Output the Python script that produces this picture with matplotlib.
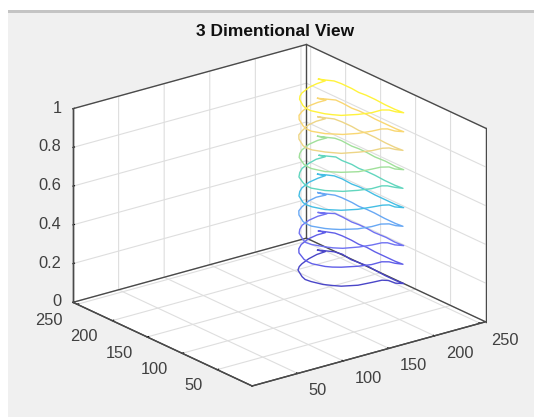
"""3 Dimentional View: contour3 style stack of outlines."""
import matplotlib
matplotlib.use("Agg")
import matplotlib.pyplot as plt
from matplotlib.patches import Rectangle

LEVELS = [0.0, 0.098, 0.196, 0.294, 0.392, 0.49, 0.588, 0.686, 0.784, 0.882]
COLORS = ["#4A46C8", "#605EE8", "#7072F2", "#68A8F4", "#44BEE4",
          "#62D6BE", "#A0E09A", "#EDD586", "#F9D772", "#FFF33C"]

x1 = [246, 250, 255, 257, 255, 256, 257, 256, 255, 255, 256, 251, 250, 246, 236, 222, 209, 204, 199, 195, 194, 196, 203, 209, 215, 227, 239, 249, 246]
y1 = [227, 222, 215, 206, 191, 181, 171, 158, 142, 127, 117, 122, 131, 135, 136, 138, 145, 151, 158, 170, 177, 184, 199, 205, 209, 215, 219, 220, 227]
x2 = [247, 251, 255, 256, 256, 255, 256, 255, 255, 255, 256, 252, 250, 245, 234, 222, 209, 203, 199, 194, 194, 195, 201, 207, 215, 228, 240, 249, 247]
y2 = [227, 221, 214, 205, 192, 180, 170, 157, 143, 128, 118, 124, 130, 134, 134, 138, 145, 150, 155, 167, 174, 180, 195, 203, 210, 217, 220, 220, 227]
x3 = [246, 250, 256, 256, 255, 256, 256, 255, 256, 255, 256, 251, 249, 245, 235, 223, 210, 204, 200, 194, 193, 195, 202, 208, 216, 228, 240, 250, 246]
y3 = [226, 221, 215, 204, 190, 181, 169, 158, 142, 128, 117, 123, 131, 134, 135, 138, 144, 150, 156, 168, 175, 181, 196, 203, 210, 216, 219, 219, 226]
x4 = [247, 250, 255, 256, 256, 255, 256, 256, 255, 255, 256, 252, 250, 244, 234, 221, 208, 203, 199, 193, 193, 194, 201, 207, 215, 229, 239, 249, 247]
y4 = [228, 222, 214, 206, 191, 180, 170, 159, 143, 127, 118, 123, 130, 134, 134, 137, 145, 150, 155, 167, 174, 180, 195, 203, 209, 217, 220, 219, 228]
x5 = [246, 251, 255, 256, 255, 256, 256, 255, 255, 255, 256, 251, 250, 245, 235, 222, 209, 204, 199, 194, 193, 194, 201, 208, 215, 228, 240, 249, 246]
y5 = [227, 221, 215, 205, 190, 181, 171, 157, 142, 127, 117, 123, 130, 133, 135, 138, 145, 150, 155, 167, 174, 180, 195, 203, 209, 216, 219, 220, 227]
x6 = [247, 250, 256, 255, 256, 255, 256, 256, 255, 255, 256, 252, 249, 245, 234, 222, 210, 204, 199, 193, 193, 195, 201, 208, 216, 228, 239, 249, 247]
y6 = [226, 222, 214, 204, 191, 180, 170, 158, 143, 128, 118, 124, 131, 134, 134, 138, 144, 150, 155, 167, 174, 181, 195, 203, 210, 216, 220, 220, 226]
x7 = [246, 250, 255, 256, 255, 256, 256, 255, 256, 255, 256, 251, 250, 244, 235, 222, 209, 204, 199, 194, 194, 195, 202, 208, 215, 228, 240, 250, 246]
y7 = [227, 221, 214, 206, 190, 181, 170, 157, 143, 127, 117, 123, 130, 134, 135, 137, 145, 150, 155, 168, 174, 180, 196, 203, 209, 216, 219, 219, 227]
x8 = [247, 251, 255, 256, 256, 255, 256, 256, 255, 255, 256, 252, 250, 245, 234, 223, 209, 204, 200, 194, 193, 194, 201, 207, 215, 228, 239, 249, 247]
y8 = [228, 221, 215, 205, 191, 180, 169, 158, 142, 128, 118, 124, 130, 133, 134, 138, 145, 151, 156, 167, 174, 180, 195, 203, 209, 217, 220, 220, 228]
x9 = [246, 250, 256, 256, 255, 256, 256, 255, 255, 255, 256, 251, 249, 245, 235, 222, 210, 204, 199, 193, 193, 195, 202, 208, 216, 229, 240, 249, 246]
y9 = [227, 222, 214, 204, 190, 181, 170, 157, 143, 127, 117, 123, 131, 134, 135, 138, 144, 150, 155, 167, 174, 181, 196, 204, 210, 217, 219, 219, 227]
x10 = [247, 250, 255, 256, 256, 255, 256, 256, 255, 255, 256, 252, 250, 245, 234, 222, 209, 204, 200, 195, 195, 197, 204, 209, 215, 228, 239, 249, 247]
y10 = [227, 222, 215, 206, 191, 180, 171, 158, 142, 128, 117, 123, 130, 134, 134, 138, 145, 151, 157, 170, 177, 184, 198, 204, 209, 216, 219, 220, 227]
CONTOURS_X = [x1, x2, x3, x4, x5, x6, x7, x8, x9, x10]
CONTOURS_Y = [y1, y2, y3, y4, y5, y6, y7, y8, y9, y10]

XY_TICKS = [50, 100, 150, 200, 250]
Z_TICKS = [0, 0.2, 0.4, 0.6, 0.8, 1]
Z_LABELS = ["0", "0.2", "0.4", "0.6", "0.8", "1"]
XY_MAX = 256
W, H = 534, 417

plt.rcParams["font.family"] = ["Liberation Sans", "DejaVu Sans"]

fig = plt.figure(figsize=(W / 100, H / 100), dpi=100, facecolor="#F0F0F0")
# white screenshot margin and the grey toolbar rule
fig.patches.append(Rectangle((0, 0), 8 / W, 1, transform=fig.transFigure, color="white", lw=0))
fig.patches.append(Rectangle((0, 1 - 10 / H), 1, 10 / H, transform=fig.transFigure, color="white", lw=0))
fig.patches.append(Rectangle((8 / W, 1 - 12.5 / H), 1, 2.5 / H, transform=fig.transFigure, color="#C4C4C4", lw=0))

ax = fig.add_axes([60 / W, -17.5 / H, 427 / W, 427 / H], projection="3d", proj_type="ortho")
ax.patch.set_alpha(0)
ax.view_init(elev=21, azim=-127.5)
ax.set_box_aspect((1, 1, 0.705), zoom=1.057)
ax.computed_zorder = False

# box outline of the walls and floor
BOX = "#4A4A4A"
ax.plot([0, XY_MAX, XY_MAX, 0, 0], [0, 0, XY_MAX, XY_MAX, 0], [0] * 5, color=BOX, lw=1.0, zorder=2)
ax.plot([0, XY_MAX, XY_MAX], [XY_MAX, XY_MAX, 0], [1, 1, 1], color=BOX, lw=1.0, zorder=2)
ax.plot([0, 0], [XY_MAX, XY_MAX], [0, 1], color=BOX, lw=1.0, zorder=2)
ax.plot([XY_MAX, XY_MAX], [XY_MAX, XY_MAX], [0, 1], color=BOX, lw=1.0, zorder=2)
ax.plot([XY_MAX, XY_MAX], [0, 0], [0, 1], color=BOX, lw=1.0, zorder=2)

for xs, ys, level, col in zip(CONTOURS_X, CONTOURS_Y, LEVELS, COLORS):
    ax.plot(xs, ys, [level] * len(xs), color=col, lw=1.0, zorder=3)

ax.set_xlim(0, XY_MAX, view_margin=0)
ax.set_ylim(0, XY_MAX, view_margin=0)
ax.set_zlim(0, 1, view_margin=0)
ax.set_xticks(XY_TICKS)
ax.set_yticks(XY_TICKS)
ax.set_zticks(Z_TICKS)
ax.set_zticklabels(Z_LABELS)
ax.tick_params(labelsize=11.8, labelcolor="#404040")
ax.tick_params(axis="x", pad=2)
ax.tick_params(axis="y", pad=2)
ax.tick_params(axis="z", pad=-3.5)

for axis in (ax.xaxis, ax.yaxis, ax.zaxis):
    axis.set_pane_color("white")
    axis.line.set_color("#404040")
    axis.line.set_linewidth(1.0)
    axis._axinfo["grid"].update(color="#DEDEDE", linewidth=0.8)
    axis._axinfo["tick"].update(inward_factor=0.0, outward_factor=0.08, color="#404040")
ax.grid(True)

for axis, ha in ((ax.xaxis, "left"), (ax.yaxis, "right"), (ax.zaxis, "right")):
    for lab in axis.get_ticklabels():
        lab.set_ha(ha)
        lab.set_va("center")

fig.text(275 / W, 1 - 31 / H, "3 Dimentional View", ha="center", va="center",
         fontsize=12.5, fontweight="bold", color="#101010")

fig.savefig("out.png", dpi=100, facecolor=fig.get_facecolor())
